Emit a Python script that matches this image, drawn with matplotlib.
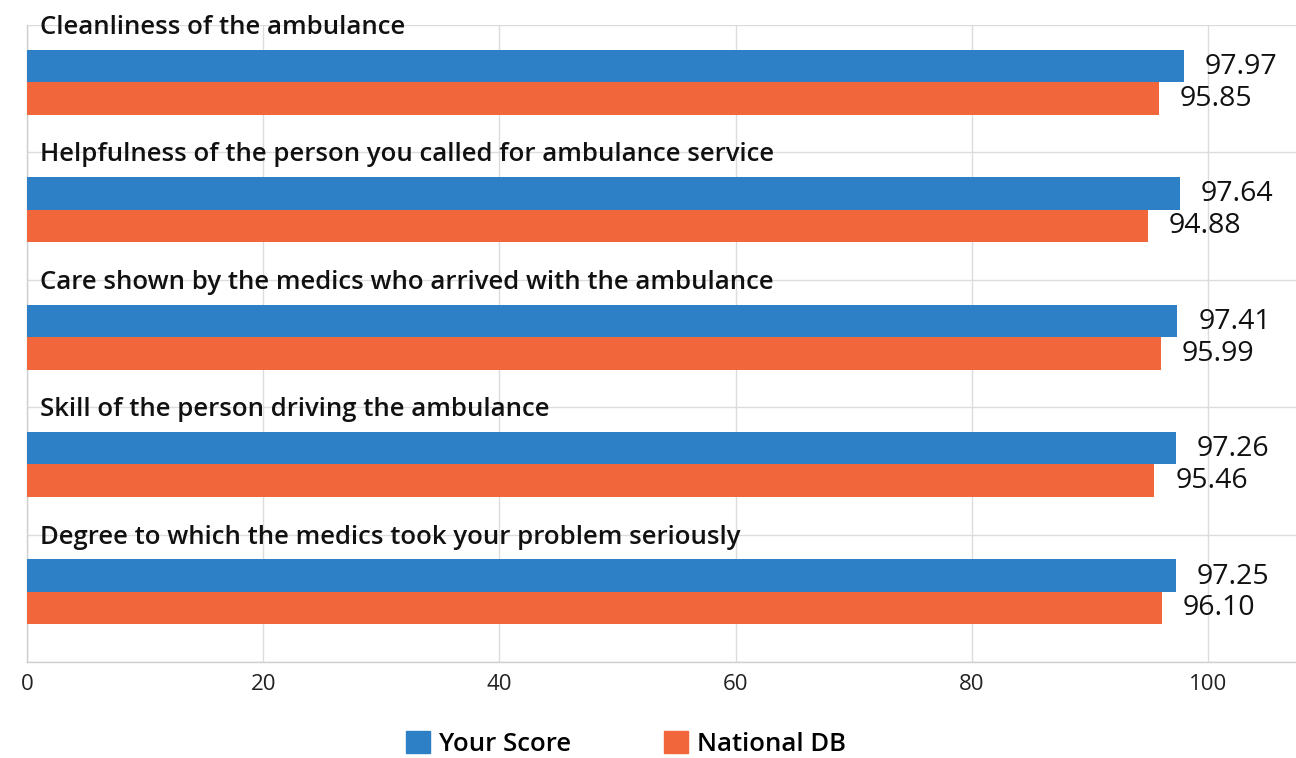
import matplotlib
matplotlib.use("Agg")
import matplotlib.pyplot as plt
from matplotlib.patches import Patch
import numpy as np

categories = [
    "Cleanliness of the ambulance",
    "Helpfulness of the person you called for ambulance service",
    "Care shown by the medics who arrived with the ambulance",
    "Skill of the person driving the ambulance",
    "Degree to which the medics took your problem seriously",
]
your_score = [97.97, 97.64, 97.41, 97.26, 97.25]
national_db = [95.85, 94.88, 95.99, 95.46, 96.10]
series_names = ["Your Score", "National DB"]
x_ticks = [0, 20, 40, 60, 80, 100]

BLUE = "#2E80C6"
ORANGE = "#F2663C"
GRID = "#DCDCDC"
FONT = ["Open Sans", "DejaVu Sans"]

plt.rcParams["font.family"] = FONT

fig = plt.figure(figsize=(12.96, 7.58), dpi=100)
ax = fig.add_axes([27 / 1296, 1 - 662 / 758, 1 - 27 / 1296, (662 - 25) / 758])

n = len(categories)
idx = np.arange(n)
h = 0.255
ax.barh(idx + 0.322, your_score, height=h, color=BLUE, zorder=3)
ax.barh(idx + 0.577, national_db, height=h, color=ORANGE, zorder=3)

for i in range(n):
    ax.annotate(f"{your_score[i]:.2f}", (your_score[i], i + 0.33), xytext=(15, 0),
                textcoords="offset points", ha="left", va="center", fontsize=20.5, color="#111111")
    ax.annotate(f"{national_db[i]:.2f}", (national_db[i], i + 0.58), xytext=(15, 0),
                textcoords="offset points", ha="left", va="center", fontsize=20.5, color="#111111")
    ax.text(1.1, i + 0.02, categories[i], ha="left", va="center", fontsize=18.5,
            fontweight="semibold", color="#111111", zorder=5, clip_on=False)

ax.set_xlim(0, (1296 - 27) / 11.81)
ax.set_ylim(n, 0)
ax.set_xticks(x_ticks)
ax.set_xticklabels([str(t) for t in x_ticks], fontsize=16, color="#222222")
ax.set_yticks([])
ax.set_yticks(np.arange(n + 1), minor=True)
ax.tick_params(axis="x", length=0, pad=9)
ax.tick_params(axis="y", which="both", length=0)
ax.grid(axis="x", color=GRID, linewidth=1, zorder=0)
ax.grid(axis="y", which="minor", color=GRID, linewidth=1, zorder=0)
for s in ["top", "right"]:
    ax.spines[s].set_visible(False)
for s in ["left", "bottom"]:
    ax.spines[s].set_color("#CFCFCF")
    ax.spines[s].set_linewidth(1)

handles = [Patch(facecolor=BLUE, edgecolor=BLUE), Patch(facecolor=ORANGE, edgecolor=ORANGE)]
fig.legend(handles, series_names, loc="center", bbox_to_anchor=(626 / 1296, 1 - 744 / 758),
           ncol=2, frameon=False, handlelength=0.95, handleheight=0.95,
           handletextpad=0.35, columnspacing=3.6,
           prop={"size": 18.5, "weight": "semibold", "family": FONT})

fig.savefig("out.png", dpi=100)
